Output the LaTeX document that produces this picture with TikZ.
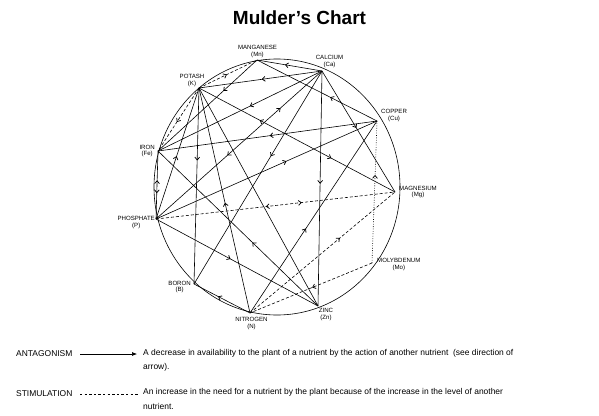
\documentclass[tikz,border=0pt]{standalone}
\usepackage{fontspec}
\setmainfont{Liberation Sans}
\usetikzlibrary{positioning}
\usetikzlibrary{arrows.meta}
\usetikzlibrary{decorations.markings}
\tikzstyle{nutrient} = [coordinate]
\tikzstyle{lbl} = [inner sep=0pt, align=center, font=\fontsize{6.1}{6.8}\selectfont]
\tikzstyle{legend} = [inner sep=0pt, align=left, font=\fontsize{8.45}{14.3}\selectfont]
\tikzstyle{title} = [inner sep=0pt, font=\bfseries\fontsize{19}{20}\selectfont]
\tikzstyle{chord} = [line width=0.6pt]
\tikzset{
  barb/.tip={Straight Barb[length=2.8pt,width=4.8pt,line width=0.75pt]},
  ant/.style={chord, postaction={decorate},
    decoration={markings, mark=at position #1 with {\arrow{barb}}}},
  ant2/.style 2 args={chord, postaction={decorate},
    decoration={markings, mark=at position #1 with {\arrowreversed{barb}},
      mark=at position #2 with {\arrow{barb}}}},
  stim/.style={ant=#1, dash pattern=on 3pt off 2pt},
  stim2/.style 2 args={ant2={#1}{#2}, dash pattern=on 3pt off 2pt},
  trace/.style={ant=#1, dash pattern=on 0.8pt off 1.6pt}
}

\begin{document}
\begin{tikzpicture}[x=1pt,y=-1pt]
    \useasboundingbox (0,0) rectangle (599,415);
    \node [title] (heading) at (299.5,18) {Mulder’s Chart};

    % nutrients round the ring
    \coordinate (ctr) at (277,187);
    \node [nutrient] (Mn) at (257,60) {};
    \node [nutrient] (Ca) at (322,71) {};
    \node [nutrient] (Cu) at (377,121) {};
    \node [nutrient] (Mg) at (395,192) {};
    \node [nutrient] (Mo) at (372,263) {};
    \node [nutrient] (Zn) at (318,306) {};
    \node [nutrient] (N) at (250,313) {};
    \node [nutrient] (B) at (194,284) {};
    \node [nutrient] (P) at (156,219) {};
    \node [nutrient] (Fe) at (158,151) {};
    \node [nutrient] (K) at (199,88) {};

    \draw [chord] (ctr) ellipse [x radius=123, y radius=128];

    \node [lbl, above=2pt of Mn, xshift=0.5pt] (MnL) {MANGANESE\\(Mn)};
    \node [lbl, above=3pt of Ca, xshift=7.5pt] (CaL) {CALCIUM\\(Ca)};
    \node [lbl, above right=-1pt and 4pt of Cu] (CuL) {COPPER\\(Cu)};
    \node [lbl, right=4pt of Mg] (MgL) {MAGNESIUM\\(Mg)};
    \node [lbl, right=5pt of Mo, yshift=-1.5pt] (MoL) {MOLYBDENUM\\(Mo)};
    \node [lbl, below=2pt of Zn, xshift=8pt] (ZnL) {ZINC\\(Zn)};
    \node [lbl, below=4pt of N, xshift=1.5pt] (NL) {NITROGEN\\(N)};
    \node [lbl, left=3pt of B, yshift=-3pt] (BL) {BORON\\(B)};
    \node [lbl, left=1pt of P, yshift=-3.5pt] (PL) {PHOSPHATE\\(P)};
    \node [lbl, left=3pt of Fe] (FeL) {IRON\\(Fe)};
    \node [lbl, above=1pt of K, xshift=-7pt] (KL) {POTASH\\(K)};

    % antagonism
    \draw [ant=0.57] (Ca) -- (Mn);
    \draw [ant=0.49] (Ca) -- (K);
    \draw [ant=0.44] (Ca) -- (Fe);
    \draw [ant=0.40] (Ca) -- (B);
    \draw [ant=0.48] (Ca) -- (Zn);
    \draw [ant=0.47] (Ca) -- (Mg);
    \draw [ant2={0.25}{0.57}] (Ca) -- (P);
    \draw [ant=0.34] (Mn) -- (Fe);
    \draw [ant=0.39] (Cu) -- (Mn);
    \draw [ant2={0.31}{0.675}] (K) -- (Mg);
    \draw [ant=0.37] (K) -- (B);
    \draw [chord] (K) -- (Zn);
    \draw [ant=0.49] (N) -- (K);
    \draw [ant=0.48] (P) -- (K);
    \draw [ant=0.57] (N) -- (B);
    \draw [ant=0.44] (N) -- (Cu);
    \draw [ant=0.49] (Cu) -- (Fe);
    \draw [ant=0.59] (P) -- (Cu);
    \draw [ant=0.46] (P) -- (Zn);
    \draw [ant=0.41] (Zn) -- (Fe);
    \draw [ant2={0.43}{0.62}] (Fe) -- (P);

    % stimulation
    \draw [stim=0.54] (K) -- (Fe);
    \draw [stim=0.48] (K) -- (Mn);
    \draw [stim2={0.46}{0.61}] (P) -- (Mg);
    \draw [stim=0.62] (N) -- (Mg);
    \draw [stim=0.49] (Mo) -- (N);
    \draw [trace=0.62] (Mo) -- (Cu);

    % key
    \node [legend, anchor=west] (antag) at (16,354) {ANTAGONISM};
    \coordinate (antA) at (80,354);
    \coordinate (antB) at (137,354);
    \draw [chord, -{Latex[length=5pt,width=4pt]}] (antA) -- (antB);
    \node [legend, anchor=north west] (antagtxt) at (143,349)
      {A decrease in availability to the plant of a nutrient by the action of another nutrient\ \ (see direction of\\arrow).};
    \node [legend, anchor=west] (stimu) at (16,393.5) {STIMULATION};
    \coordinate (stimA) at (80,394);
    \coordinate (stimB) at (139,394);
    \draw [chord, dash pattern=on 2.4pt off 2.2pt] (stimA) -- (stimB);
    \node [legend, anchor=north west] (stimtxt) at (143,388.5)
      {An increase in the need for a nutrient by the plant because of the increase in the level of another\\nutrient.};
\end{tikzpicture}
\end{document}
